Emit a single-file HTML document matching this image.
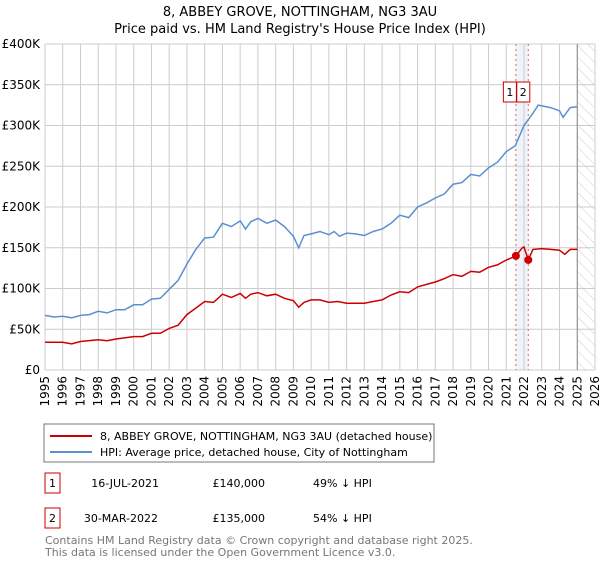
<!DOCTYPE html>
<html><head><meta charset="utf-8"><style>
body{margin:0;background:#fff;font-family:"Liberation Sans","DejaVu Sans",sans-serif;}
svg text{font-family:"DejaVu Sans","Liberation Sans",sans-serif;}
</style></head><body>
<svg id="chart" width="600" height="560" viewBox="0 0 600 560" xmlns="http://www.w3.org/2000/svg">
<defs><pattern id="hatch" width="8" height="8" patternUnits="userSpaceOnUse" patternTransform="rotate(-45)"><line x1="0" y1="0" x2="0" y2="8" stroke="#ccc" stroke-width="1"/></pattern></defs>
<text x="300" y="16" text-anchor="middle" font-size="13" fill="#000">8, ABBEY GROVE, NOTTINGHAM, NG3 3AU</text>
<text x="300" y="33" text-anchor="middle" font-size="13" fill="#000">Price paid vs. HM Land Registry's House Price Index (HPI)</text>
<g id="grid"></g><g id="marks"></g><g id="axes"></g>
<rect x="44" y="424" width="390" height="38" fill="#fff" stroke="#777"/>
<line x1="50" y1="436" x2="92" y2="436" stroke="#cc0000" stroke-width="2"/>
<text x="100" y="440" font-size="11">8, ABBEY GROVE, NOTTINGHAM, NG3 3AU (detached house)</text>
<line x1="50" y1="452" x2="92" y2="452" stroke="#5b8fd0" stroke-width="2"/>
<text x="100" y="456" font-size="11">HPI: Average price, detached house, City of Nottingham</text>
<g>
<rect x="45" y="473" width="15" height="20" fill="#fff" stroke="#cc0000"/>
<text x="52.5" y="487" text-anchor="middle" font-size="11">1</text>
<text x="159" y="487" text-anchor="end" font-size="11">16-JUL-2021</text>
<text x="265" y="487" text-anchor="end" font-size="11">£140,000</text>
<text x="313" y="487" font-size="11">49% ↓ HPI</text></g>
<g>
<rect x="45" y="508" width="15" height="20" fill="#fff" stroke="#cc0000"/>
<text x="52.5" y="522" text-anchor="middle" font-size="11">2</text>
<text x="158" y="522" text-anchor="end" font-size="11">30-MAR-2022</text>
<text x="265" y="522" text-anchor="end" font-size="11">£135,000</text>
<text x="313" y="522" font-size="11">54% ↓ HPI</text></g>
<text x="45" y="544" font-size="11" fill="#777">Contains HM Land Registry data © Crown copyright and database right 2025.</text>
<text x="45" y="556" font-size="11" fill="#777">This data is licensed under the Open Government Licence v3.0.</text>
</svg>
<script>
const yTicks=[0,50,100,150,200,250,300,350,400];
const yTickLabels=["£0","£50K","£100K","£150K","£200K","£250K","£300K","£350K","£400K"];
const xYears=[1995,1996,1997,1998,1999,2000,2001,2002,2003,2004,2005,2006,2007,2008,2009,2010,2011,2012,2013,2014,2015,2016,2017,2018,2019,2020,2021,2022,2023,2024,2025,2026];
const hpiT=[1995,1995.5,1996,1996.5,1997,1997.5,1998,1998.5,1999,1999.5,2000,2000.5,2001,2001.5,2002,2002.5,2003,2003.5,2004,2004.5,2005,2005.5,2006,2006.3,2006.6,2007,2007.5,2008,2008.5,2009,2009.3,2009.6,2010,2010.5,2011,2011.3,2011.6,2012,2012.5,2013,2013.5,2014,2014.5,2015,2015.5,2016,2016.5,2017,2017.5,2018,2018.5,2019,2019.5,2020,2020.5,2021,2021.5,2022,2022.5,2022.8,2023,2023.5,2024,2024.2,2024.6,2025];
const hpiV=[67,65,66,64,67,68,72,70,74,74,80,80,87,88,99,110,130,148,162,163,180,176,183,173,182,186,180,184,176,164,150,165,167,170,166,170,164,168,167,165,170,173,180,190,187,200,205,211,216,228,230,240,238,248,255,268,275,300,315,325,324,322,318,310,322,323];
const propT=[1995,1996,1996.5,1997,1998,1998.5,1999,2000,2000.5,2001,2001.5,2002,2002.5,2003,2003.5,2004,2004.5,2005,2005.5,2006,2006.3,2006.6,2007,2007.5,2008,2008.5,2009,2009.3,2009.6,2010,2010.5,2011,2011.5,2012,2012.5,2013,2013.5,2014,2014.5,2015,2015.5,2016,2016.5,2017,2017.5,2018,2018.5,2019,2019.5,2020,2020.5,2021,2021.54,2021.9,2022.0,2022.24,2022.5,2023,2023.5,2024,2024.3,2024.6,2025];
const propV=[34,34,32,35,37,36,38,41,41,45,45,51,55,68,76,84,83,93,89,94,88,93,95,91,93,88,85,77,83,86,86,83,84,82,82,82,84,86,92,96,95,102,105,108,112,117,115,121,120,126,129,135,140,150,151,135,148,149,148,147,142,148,148];
const saleT=[2021.54,2022.24];
const saleV=[140,135];
const saleLabels=["1","2"];
const L=45,R=595,T=44,B=370,X0=1995,X1=2026,YMAX=400,NOW=2025.0;
const xs=t=>L+(t-X0)/(X1-X0)*(R-L);
const ys=v=>B-v/YMAX*(B-T);
const NS="http://www.w3.org/2000/svg";
function mk(tag,attrs,parent,txt){const e=document.createElementNS(NS,tag);for(const k in attrs)e.setAttribute(k,attrs[k]);if(txt!==undefined)e.textContent=txt;parent.appendChild(e);return e;}
const grid=document.getElementById('grid'),marks=document.getElementById('marks'),axes=document.getElementById('axes');
const band=mk('rect',{x:xs(saleT[0]),y:T,width:xs(saleT[1])-xs(saleT[0]),height:B-T,fill:'#e8eef8',opacity:0.7},grid);


const hatch=mk('rect',{x:xs(NOW),y:T,width:R-xs(NOW),height:B-T,fill:'url(#hatch)'},grid);


yTicks.forEach((v,i)=>{
 const g=mk('line',{x1:L,x2:R,y1:ys(v),y2:ys(v),stroke:'#ccc','stroke-width':1},grid);
 
 
 const t=mk('text',{x:L-5,y:ys(v)+4,'text-anchor':'end','font-size':12},axes,yTickLabels[i]);
 
 
});
xYears.forEach(y=>{
 const g=mk('line',{x1:xs(y),x2:xs(y),y1:T,y2:B,stroke:'#ccc','stroke-width':1},grid);
 
 
 const t=mk('text',{x:0,y:0,'text-anchor':'end','font-size':12,transform:`translate(${xs(y)+4},${B+6}) rotate(-90)`},axes,String(y));
 
 
});
const nowLine=mk('line',{x1:xs(NOW),x2:xs(NOW),y1:T,y2:B,stroke:'#888','stroke-width':1},grid);


saleT.forEach((t,i)=>{
 const d=mk('line',{x1:xs(t),x2:xs(t),y1:T,y2:B,stroke:'#f06060','stroke-width':1,'stroke-dasharray':'2,3'},grid);
 
 
});
function path(ts,vs,color,name){
 const p=mk('path',{d:ts.map((t,i)=>(i?'L':'M')+xs(t).toFixed(1)+','+ys(vs[i]).toFixed(1)).join(''),fill:'none',stroke:color,'stroke-width':1.5},marks);
 
 
}
path(hpiT,hpiV,'#5b8fd0','hpi-line');
path(propT,propV,'#cc0000','property-price-line');
saleT.forEach((t,i)=>{
 const c=mk('circle',{cx:xs(t),cy:ys(saleV[i]),r:4,fill:'#cc0000'},marks);
 
 
 const bx=i===0?xs(t)-12.5:xs(t)-11.5;
 const r=mk('rect',{x:bx,y:82,width:13,height:20,fill:'#fff',stroke:'#cc0000'},marks);
 
 
 const tx=mk('text',{x:bx+6.5,y:96,'text-anchor':'middle','font-size':11},marks,saleLabels[i]);
 
 
});
</script>
</body></html>
